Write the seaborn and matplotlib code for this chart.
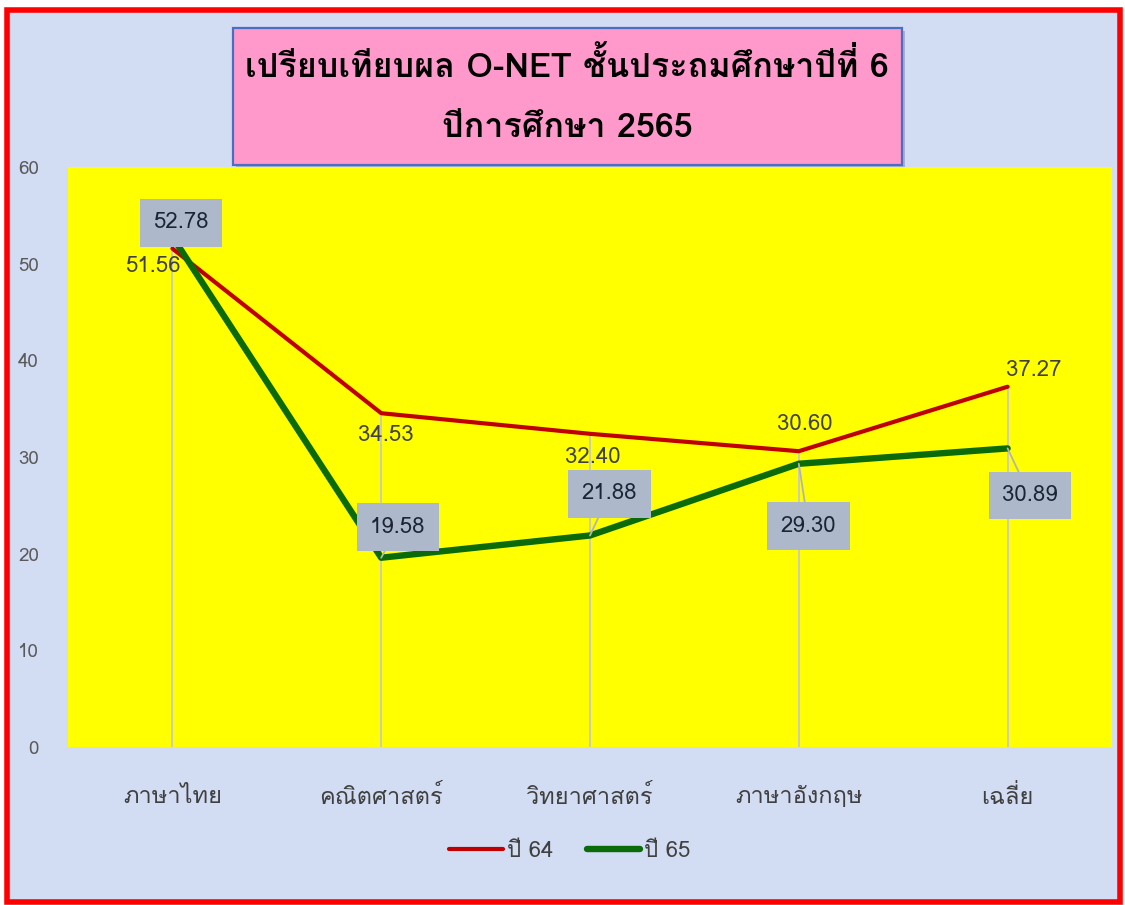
import seaborn as sns
import matplotlib.pyplot as plt
from matplotlib import font_manager
from matplotlib.patches import Rectangle
from matplotlib.lines import Line2D
from fontTools.ttLib import TTFont

# data
subjects = ["ภาษาไทย", "คณิตศาสตร์", "วิทยาศาสตร์", "ภาษาอังกฤษ", "เฉลี่ย"]
score_64 = [51.56, 34.53, 32.40, 30.60, 37.27]
score_65 = [52.78, 19.58, 21.88, 29.30, 30.89]
series_names = ["ปี 64", "ปี 65"]
yticks = [0, 10, 20, 30, 40, 50, 60]
title_lines = ["เปรียบเทียบผล O-NET ชั้นประถมศึกษาปีที่ 6", "ปีการศึกษา 2565"]


def find_thai_fonts():
    # look for installed fonts that can draw Thai
    found = []
    for f in font_manager.fontManager.ttflist:
        try:
            cmap = TTFont(f.fname, fontNumber=0, lazy=True).getBestCmap()
        except Exception:
            continue
        if cmap and 0x0E1B in cmap and 0x0E35 in cmap and f.name not in found:
            found.append(f.name)
    return found


thai = find_thai_fonts()
sns.set_style('white')
plt.rcParams['font.family'] = thai[:1] + ['DejaVu Sans']

fig = plt.figure(figsize=(11.25, 9.05), dpi=100, facecolor='white')
# pastel background with red frame
fig.patches.append(Rectangle((7 / 1125, 3 / 905), 1113 / 1125, 892 / 905, transform=fig.transFigure,
                             facecolor='#d2dcf3', edgecolor='#ff0000', lw=4, zorder=-5))

ax = fig.add_axes([68 / 1125, 1 - 747 / 905, 1044 / 1125, 580 / 905])
ax.set_zorder(2)
ax.set_facecolor('#ffff00')

sns.lineplot(x=subjects, y=score_64, color='#c00000', lw=3, sort=False, ax=ax, zorder=3)
sns.lineplot(x=subjects, y=score_65, color='#0b6b0b', lw=4.6, sort=False, ax=ax, zorder=4)

xs = range(len(subjects))
ax.vlines(xs, 0, [max(a, b) for a, b in zip(score_64, score_65)], color='#c8c8c8', lw=1.3, zorder=2)

ax.set_xlim(-0.5, 4.5)
ax.set_ylim(0, 60)
ax.set_yticks(yticks)
ax.tick_params(axis='y', length=0, pad=21, labelsize=13.5, labelcolor='#5a5a5a')
ax.tick_params(axis='x', length=0, pad=27, labelsize=17, labelcolor='#404040')
for s in ax.spines.values():
    s.set_visible(False)

# label offsets in points
off_64 = [(-14, -13), (3, -16), (2, -17), (4, 19), (19, 12)]
off_65 = [(6, 10), (12, 22), (14, 30), (7, -45), (16, -34)]
for i in xs:
    ax.annotate(f"{score_64[i]:.2f}", (i, score_64[i]), xytext=off_64[i], textcoords='offset points',
                ha='center', va='center', fontsize=16, color='#404040', zorder=6)
    ax.annotate(f"{score_65[i]:.2f}", (i, score_65[i]), xytext=off_65[i], textcoords='offset points',
                ha='center', va='center', fontsize=16, color='#1c2535', zorder=7,
                bbox=dict(boxstyle='square,pad=0.6', fc='#adb9ca', ec='none'),
                arrowprops=dict(arrowstyle='-', color='#b4b4b4', lw=1.3, shrinkA=0, shrinkB=0))

# title box with a soft shadow
fig.patches.append(Rectangle((236 / 1125, 1 - 168 / 905), 669 / 1125, 137 / 905, transform=fig.transFigure,
                             facecolor='#8a94b0', edgecolor='none', alpha=0.6, zorder=0))
fig.patches.append(Rectangle((233 / 1125, 1 - 165 / 905), 669 / 1125, 137 / 905, transform=fig.transFigure,
                             facecolor='#ff99cc', edgecolor='#4a6fc0', lw=1.6, zorder=1))
fig.text(567 / 1125, 1 - 65 / 905, title_lines[0], ha='center', va='center', fontsize=24.5,
         weight='bold', color='black', zorder=3)
fig.text(567 / 1125, 1 - 128 / 905, title_lines[1], ha='center', va='center', fontsize=24.5,
         weight='bold', color='black', zorder=3)

handles = [Line2D([], [], color='#c00000', lw=3), Line2D([], [], color='#0b6b0b', lw=4.6)]
fig.legend(handles, series_names, loc='center', bbox_to_anchor=(570 / 1125, 1 - 851 / 905), ncol=2,
           frameon=False, fontsize=16, handlelength=2.4, handletextpad=0.2, columnspacing=1.5,
           labelcolor='#404040')

fig.savefig('out.png', dpi=100, facecolor='white')
